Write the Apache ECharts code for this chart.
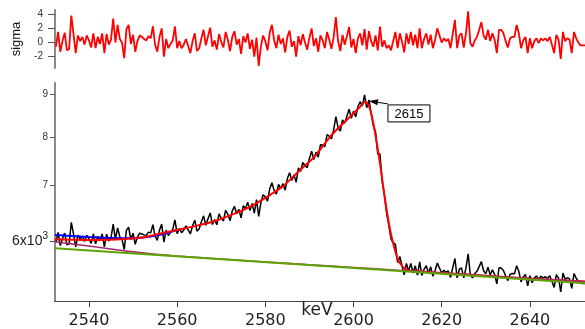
<!DOCTYPE html>
<html><head><meta charset="utf-8">
<script src="https://cdn.jsdelivr.net/npm/echarts@6/dist/echarts.min.js"></script>
<style>html,body{margin:0;padding:0;background:#fff}#c{width:585px;height:329px}</style>
</head><body><div id="c"></div>
<script>
// channel energies: start + step (keV)
const startKeV = 2532.5, stepKeV = 0.5;
// residuals (sigma) per channel
const sigma = [
-0.6,1.5,-1.3,0.2,1.4,-1.1,-0.9,3.8,1.2,-1.5,
1.0,0.2,0.8,-0.3,1.0,0.3,-0.7,1.3,-0.8,0.8,
-0.2,1.3,-1.5,1.2,-0.3,0.4,3.4,0.0,2.5,0.5,
0.0,-2.2,1.9,2.5,-0.2,1.1,-1.3,0.2,1.0,0.8,
0.5,0.3,0.9,0.6,2.3,-0.3,-1.3,0.8,2.0,-2.0,
0.5,-0.8,-0.2,0.3,2.3,-0.8,0.2,-0.8,-0.3,0.5,
-0.5,-1.5,0.2,1.3,-1.2,-0.8,0.6,1.8,-0.4,0.9,
2.1,-0.6,0.3,-1.0,1.2,0.1,-0.7,1.5,0.4,-1.2,
0.8,1.6,-0.3,0.5,-1.6,0.9,0.0,1.3,-0.9,0.4,
-2.0,0.7,-3.3,-0.5,1.0,0.2,-1.1,1.4,2.5,0.3,
-0.8,1.1,-0.2,0.6,-1.4,0.8,1.7,-0.6,0.2,-2.0,
0.9,-0.4,1.2,0.0,-1.0,0.7,2.0,-0.5,0.6,-1.3,
1.0,0.3,-0.8,1.5,0.4,-0.9,0.8,3.6,0.2,-1.2,
1.1,-0.3,0.9,2.2,-0.7,0.5,-1.5,0.6,1.3,-0.4,
1.9,-1.0,1.6,0.2,-0.6,1.0,-1.1,2.25,-0.6,0.3,
-0.8,-0.4,-1.1,0.2,1.5,-0.8,1.3,0.1,-1.4,1.3,
-0.2,1.5,-0.4,1.1,-0.8,2.0,-0.8,0.5,1.3,-0.3,
1.1,-0.8,0.4,2.0,1.0,0.0,0.6,0.2,0.5,-0.8,
1.2,3.2,-0.8,1.0,1.3,-0.7,1.3,4.4,-0.1,-0.6,
0.3,0.8,1.8,2.9,1.0,0.4,1.8,0.2,1.3,0.4,
-1.5,1.8,1.8,1.3,0.2,-0.7,0.6,0.8,0.8,2.5,
1.3,-0.8,0.3,0.8,-1.5,0.6,-0.8,0.2,0.6,-0.1,
0.6,0.3,0.6,0.2,0.8,-0.3,-1.5,1.1,0.4,-2.3,
1.5,0.2,0.6,0.4,-1.5,1.5,0.6,0.0,-0.4,-0.4,-0.4
];
// measured counts per channel
const counts = [
5978,6141,5922,6039,6131,5935,5951,6316,6113,5902,
6096,6033,6078,5992,6093,6037,5959,6116,5953,6078,
6000,6118,5900,6112,5996,6052,6287,6024,6220,6066,
6028,5858,6181,6231,6023,6128,5944,6064,6129,6117,
6101,6093,6148,6134,6275,6080,6010,6183,6285,5980,
6183,6090,6144,6193,6358,6122,6209,6138,6185,6256,
6186,6116,6258,6353,6164,6206,6325,6431,6265,6378,
6483,6278,6364,6274,6465,6391,6341,6531,6458,6344,
6521,6603,6467,6548,6395,6614,6558,6680,6525,6654,
6481,6725,6421,6673,6819,6776,6698,6930,7050,6895,
6832,7016,6936,7030,6904,7130,7247,7095,7203,7058,
7346,7276,7455,7393,7349,7538,7691,7517,7672,7566,
7828,7826,7789,8053,8016,7960,8162,8465,8208,8131,
8389,8313,8472,8642,8427,8590,8457,8704,8821,8719,
8990,8676,8866,8538,8255,8110,7633,7631,7069,6825,
6485,6268,6034,5965,5944,5650,5748,5597,5461,5637,
5518,5638,5490,5600,5457,5662,5452,5546,5603,5482,
5584,5441,5528,5644,5567,5490,5532,5501,5521,5423,
5569,5714,5416,5547,5567,5417,5563,5790,5456,5417,
5481,5515,5587,5666,5524,5478,5579,5459,5538,5469,
5326,5568,5566,5527,5444,5375,5468,5481,5479,5602,
5512,5355,5434,5468,5297,5449,5344,5416,5444,5391,
5440,5416,5436,5406,5448,5365,5275,5464,5411,5211,
5488,5391,5418,5402,5261,5479,5411,5365,5335,5333,5331
];
// total fit (red)
const fitKeV = [2532.3,2536,2540,2544,2548,2552,2556,2560,2564,2568,2572,2576,2580,2584,2588,2591,2595,2599,2601.5,2602.6,2603.5,2604.5,2606,2607.1,2608.3,2609.4,2610.1,2611.3,2612.4,2613.9,2620,2630,2640,2652.5];
const fitCounts = [6026,6020,6014,6018,6030,6055,6120,6185,6250,6326,6440,6575,6760,6980,7310,7560,8040,8440,8700,8822,8717,8310,7437,6752,6184,5850,5690,5576,5534,5519,5490,5448,5405,5360];
// blue component
const blueKeV = [2532.3,2536,2540,2545,2550,2555,2560];
const blueCounts = [6098,6082,6064,6048,6045,6085,6185];
// purple component
const purpleKeV = [2532.3,2536,2540,2545,2550,2555,2560,2570,2580,2590,2600,2610,2620,2630,2640,2652.5];
const purpleCounts = [5986,5950,5915,5868,5820,5782,5755,5706,5660,5616,5573,5531,5490,5448,5405,5362];
// linear background (green)
const bgKeV = [2532.3,2652.5];
const bgCounts = [5878,5335];
// ticks
const xTicks = [2540,2560,2580,2600,2620,2640];
const yTicks = [6000,7000,8000,9000];
const sigmaTicks = [-2,0,2,4];
const peakLabel = '2615';
const peakArrowAt = [2603.5, 8840];
const xUnit = 'keV';

const X0 = 2532.3, X1 = 2652.5, Y0 = 5080, Y1 = 9290;
const FONT = 'Liberation Sans, Arial, sans-serif';
const energy = counts.map((_, i) => startKeV + stepKeV * i);
const pairs = (xs, ys) => xs.map((x, i) => [x, ys[i]]);
const axisGray = '#8a8a8a';

const chart = echarts.init(document.getElementById('c'), null, {renderer: 'canvas'});
const option = {
  animation: false,
  backgroundColor: '#fff',
  grid: [
    {left: 55, right: 0, top: 10, height: 58, containLabel: false, outerBoundsMode: 'none'},
    {left: 55, right: 0, top: 83, height: 218, containLabel: false, outerBoundsMode: 'none'}
  ],
  xAxis: [
    {gridIndex: 0, type: 'value', min: X0, max: X1, show: false},
    {gridIndex: 1, type: 'value', min: X0, max: X1,
     axisLine: {show: true, onZero: false, lineStyle: {color: '#444', width: 1}},
     axisTick: {show: true, length: 6, customValues: xTicks, lineStyle: {color: '#444', width: 1}},
     axisLabel: {customValues: xTicks, fontSize: 16, color: '#222', fontFamily: 'DejaVu Sans', margin: 12,
       formatter: v => String(v)},
     splitLine: {show: false}}
  ],
  yAxis: [
    {gridIndex: 0, type: 'value', min: -3.6, max: 4.6,
     axisLine: {show: true, onZero: false, lineStyle: {color: axisGray, width: 2}},
     axisTick: {show: true, length: 7, customValues: sigmaTicks, lineStyle: {color: '#555', width: 1}},
     axisLabel: {customValues: sigmaTicks, fontSize: 10, color: '#333', fontFamily: FONT, margin: 12},
     splitLine: {show: false},
     name: 'sigma', nameLocation: 'middle', nameRotate: 90, nameGap: 20,
     nameTextStyle: {fontSize: 13, color: '#111', fontFamily: FONT}},
    {gridIndex: 1, type: 'log', logBase: 10, min: Y0, max: Y1, show: false},
    {gridIndex: 1, type: 'value', position: 'left', min: Math.log10(Y0), max: Math.log10(Y1),
     axisLine: {show: true, onZero: false, lineStyle: {color: axisGray, width: 2}},
     axisTick: {show: true, length: 5, customValues: yTicks.map(v => Math.log10(v)), lineStyle: {color: '#555', width: 1}},
     axisLabel: {customValues: yTicks.map(v => Math.log10(v)), margin: 7, color: '#333', fontFamily: FONT,
       formatter: v => { const n = Math.round(Math.pow(10, v) / 1000); return n === 6 ? '{b|6x10}{s|3}' : '{a|' + n + '}'; },
       rich: {a: {fontSize: 10, color: '#333', fontFamily: FONT},
              b: {fontSize: 14, color: '#222', fontFamily: FONT},
              s: {fontSize: 10, color: '#222', fontFamily: FONT, padding: [0, 0, 9, 0]}}},
     splitLine: {show: false},
     name: 'counts', nameLocation: 'middle', nameRotate: 90, nameGap: 11,
     nameTextStyle: {fontSize: 17, color: '#111', fontFamily: FONT}}
  ],
  series: [
    {type: 'line', xAxisIndex: 0, yAxisIndex: 0, data: pairs(energy, sigma), showSymbol: false,
     lineStyle: {color: '#ff0000', width: 1.8}, itemStyle: {color: '#ff0000'}},
    {type: 'line', xAxisIndex: 1, yAxisIndex: 1, data: pairs(energy, counts), showSymbol: false,
     lineStyle: {color: '#000', width: 1.5}, itemStyle: {color: '#000'}},
    {type: 'line', xAxisIndex: 1, yAxisIndex: 1, data: pairs(blueKeV, blueCounts), showSymbol: false, smooth: 0.3,
     lineStyle: {color: '#0000ff', width: 2}, itemStyle: {color: '#0000ff'}},
    {type: 'line', xAxisIndex: 1, yAxisIndex: 1, data: pairs(fitKeV, fitCounts), showSymbol: false, smooth: 0.25,
     lineStyle: {color: '#ff0000', width: 2}, itemStyle: {color: '#ff0000'}},
    {type: 'line', xAxisIndex: 1, yAxisIndex: 1, data: pairs(purpleKeV, purpleCounts), showSymbol: false, smooth: 0.3,
     lineStyle: {color: '#a8286e', width: 1.6}, itemStyle: {color: '#a8286e'}},
    {type: 'line', xAxisIndex: 1, yAxisIndex: 1, data: pairs(bgKeV, bgCounts), showSymbol: false,
     lineStyle: {color: '#5ea400', width: 2}, itemStyle: {color: '#5ea400'}}
  ]
};
chart.setOption(option);

// annotation: box + arrow pointing at the peak
const tip = chart.convertToPixel({seriesIndex: 3}, peakArrowAt);
const bx = tip[0] + 19, by = tip[1] + 4, bw = 42, bh = 17;
const sx = bx, sy = tip[1] + 3;
const dx = tip[0] - sx, dy = tip[1] - sy, L = Math.hypot(dx, dy);
const ux = dx / L, uy = dy / L;
const hb = [tip[0] - ux * 9, tip[1] - uy * 9];
// axis unit label placed just left of the 2600 tick label, as in the reference
const p2600 = chart.convertToPixel({seriesIndex: 3}, [2600, Y0]);
chart.setOption({
  graphic: [
    {type: 'line', shape: {x1: sx, y1: sy, x2: hb[0], y2: hb[1]}, style: {stroke: '#000', lineWidth: 1}, z: 100},
    {type: 'polygon', shape: {points: [[tip[0], tip[1]], [hb[0] - uy * 3, hb[1] + ux * 3], [hb[0] + uy * 3, hb[1] - ux * 3]]}, style: {fill: '#000'}, z: 100},
    {type: 'rect', shape: {x: bx, y: by, width: bw, height: bh}, style: {fill: '#fff', stroke: '#000', lineWidth: 1}, z: 100},
    {type: 'text', x: bx + bw / 2, y: by + bh / 2 + 0.5, style: {text: peakLabel, fontSize: 13, fontFamily: FONT, fill: '#000', align: 'center', verticalAlign: 'middle'}, z: 101},
    {type: 'text', x: p2600[0] - 21, y: p2600[1] + 10, style: {text: xUnit, fontSize: 17, fontFamily: 'DejaVu Sans', fill: '#222', align: 'right', verticalAlign: 'middle'}, z: 101}
  ]
});
</script>
</body></html>
